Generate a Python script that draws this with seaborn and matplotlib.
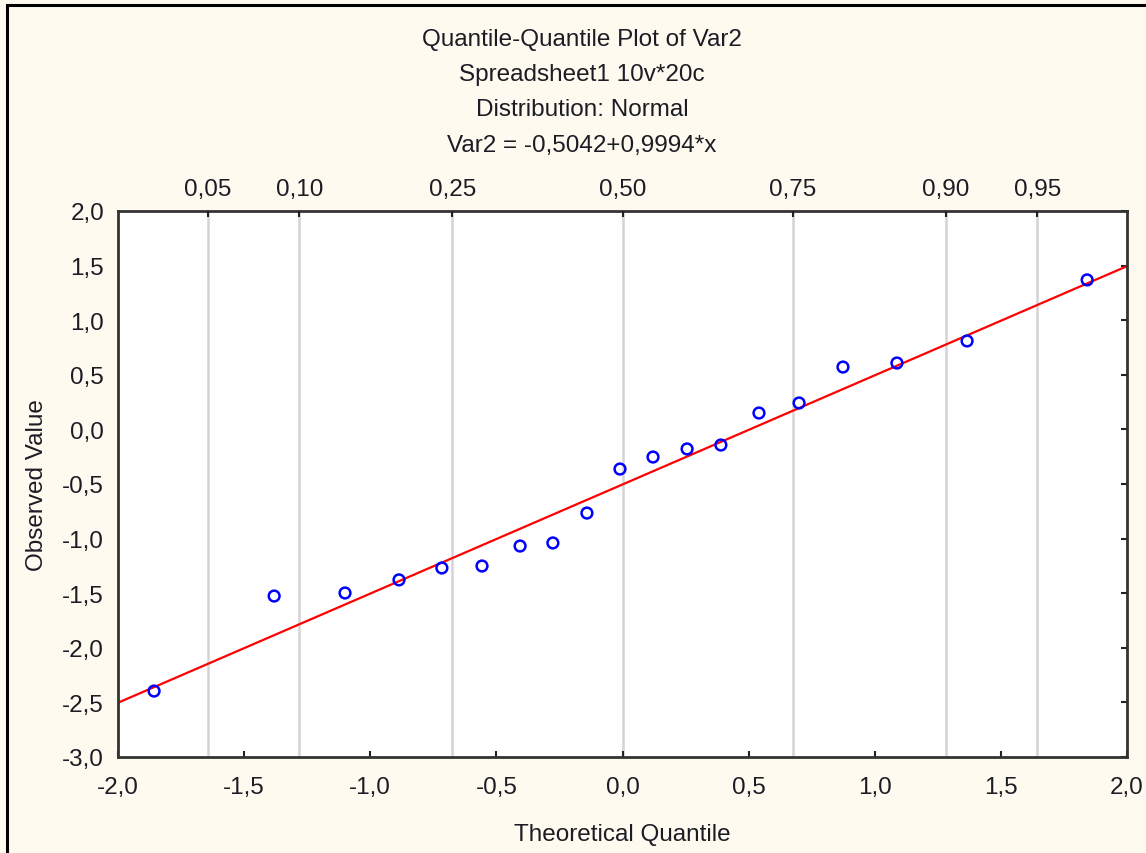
import matplotlib
matplotlib.use("Agg")
import matplotlib.pyplot as plt
import seaborn as sns
import pandas as pd
import numpy as np
from statistics import NormalDist
from matplotlib.patches import Rectangle

# ---- data ----
theoretical = [-1.857, -1.381, -1.100, -0.886, -0.716, -0.557, -0.406, -0.276, -0.141,
               -0.010, 0.121, 0.256, 0.390, 0.541, 0.700, 0.874, 1.088, 1.366, 1.842]
observed = [-2.396, -1.526, -1.498, -1.378, -1.269, -1.251, -1.068, -1.040, -0.766,
            -0.363, -0.253, -0.179, -0.143, 0.150, 0.242, 0.571, 0.608, 0.810, 1.369]
intercept = -0.5042
slope = 0.9994
top_probs = [0.05, 0.10, 0.25, 0.50, 0.75, 0.90, 0.95]
x_ticks = [-2.0, -1.5, -1.0, -0.5, 0.0, 0.5, 1.0, 1.5, 2.0]
y_ticks = [-3.0, -2.5, -2.0, -1.5, -1.0, -0.5, 0.0, 0.5, 1.0, 1.5, 2.0]
title_lines = ["Quantile-Quantile Plot of Var2", "Spreadsheet1 10v*20c",
               "Distribution: Normal", "Var2 = -0,5042+0,9994*x"]

sns.set_style("white")
plt.rcParams['font.family'] = ['Liberation Sans', 'DejaVu Sans']

W, H = 1146, 854
FS = 17.5
TC = '#1c1c24'
fig = plt.figure(figsize=(W / 100, H / 100), dpi=100)
bg = '#FFFAF0'
fig.patch.set_facecolor(bg)
fig.patches.append(Rectangle((7 / W, -0.05), 1.2, 1 - 6 / H + 0.05, transform=fig.transFigure,
                             fill=False, edgecolor='black', linewidth=2.2, zorder=0))

left, right, top, bottom = 118, 1127, 212, 758
ax = fig.add_axes([left / W, 1 - bottom / H, (right - left) / W, (bottom - top) / H])
ax.set_facecolor('white')

df = pd.DataFrame({"x": theoretical, "y": observed})
xl = np.array([x_ticks[0], x_ticks[-1]])
line_df = pd.DataFrame({"x": xl, "y": intercept + slope * xl})

# top quantile gridlines
nd = NormalDist()
z_top = [nd.inv_cdf(p) for p in top_probs]
for z in z_top:
    ax.axvline(z, color='#D4D4D4', linewidth=1.8, zorder=0)

sns.lineplot(data=line_df, x="x", y="y", ax=ax, color='#FF0000', linewidth=1.6, zorder=2)
sns.scatterplot(data=df, x="x", y="y", ax=ax, marker='o', s=60, facecolors='none',
                edgecolor='#0000FF', linewidth=1.8, zorder=3)

fmt = lambda v, d: f"{v:.{d}f}".replace('.', ',')
ax.set_xlim(x_ticks[0], x_ticks[-1])
ax.set_ylim(y_ticks[0], y_ticks[-1])
ax.set_xticks(x_ticks)
ax.set_xticklabels([fmt(v, 1) for v in x_ticks], fontsize=FS, color=TC)
ax.set_yticks(y_ticks)
ax.set_yticklabels([fmt(v, 1) for v in y_ticks], fontsize=FS, color=TC)
ax.tick_params(axis='both', direction='in', length=4, width=1.5, color='#222222',
               right=True, pad=10)
ax.tick_params(axis='x', pad=14)
ax.set_xlabel("Theoretical Quantile", fontsize=FS, color=TC, labelpad=18)
ax.set_ylabel("Observed Value", fontsize=FS, color=TC, labelpad=10)
for s in ax.spines.values():
    s.set_visible(True)
    s.set_color('#333333')
    s.set_linewidth(2.0)

ax2 = ax.twiny()
ax2.set_xlim(ax.get_xlim())
ax2.set_xticks(z_top)
ax2.set_xticklabels([fmt(p, 2) for p in top_probs], fontsize=FS, color=TC)
ax2.tick_params(axis='x', direction='in', length=4, width=1.5, color='#222222', pad=8)
for s in ax2.spines.values():
    s.set_visible(False)

ys = [40, 75, 110, 146]
for t, yy in zip(title_lines, ys):
    fig.text(582 / W, 1 - yy / H, t, ha='center', va='center', fontsize=FS, color=TC)

fig.savefig("out.png", dpi=100, facecolor=bg)
